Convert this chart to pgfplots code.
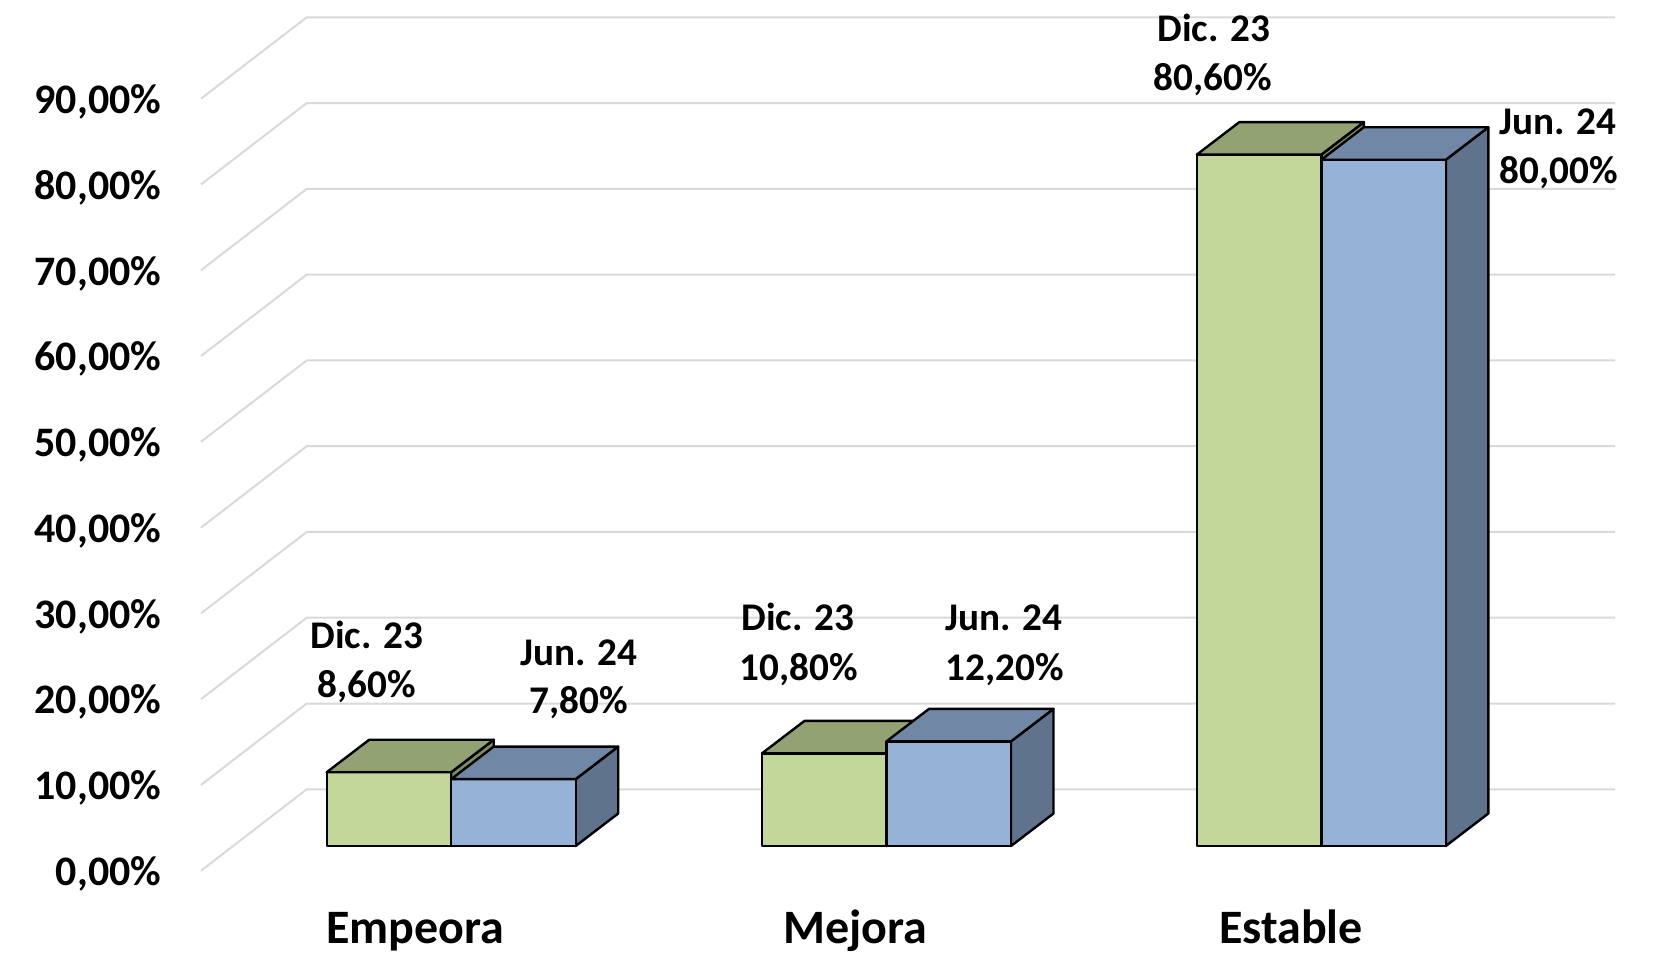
\documentclass[border=0pt]{standalone}
\usepackage{pgfplots}
\pgfplotsset{compat=1.18}
\usepackage{fontspec}
\setmainfont{Carlito}
\definecolor{gridgray}{HTML}{D9D9D9}
\definecolor{dicfront}{HTML}{C4D79B}
\definecolor{dictop}{HTML}{93A273}
\definecolor{dicside}{HTML}{7E8C62}
\definecolor{junfront}{HTML}{95B3D7}
\definecolor{juntop}{HTML}{7087A6}
\definecolor{junside}{HTML}{60738C}
\tikzset{
  tick lab/.style={font=\bfseries\fontsize{10.5}{12}\selectfont, anchor=base east, inner sep=0pt},
  data lab/.style={font=\bfseries\fontsize{9.8}{12}\selectfont, anchor=base, inner sep=0pt},
  cat lab/.style={font=\bfseries\fontsize{12}{14}\selectfont, anchor=base, inner sep=0pt},
}
\pgfplotsset{
  grid line/.style={draw=gridgray, line width=0.5pt, forget plot},
  face/.style={draw=black, line width=0.6pt, line join=round, forget plot},
}
\begin{document}
\begin{tikzpicture}
\begin{axis}[
  scale only axis, width=417.25pt, height=238.75pt,
  xmin=0, xmax=1669, ymin=-12.707, ymax=98.625,
  axis line style={draw=none}, xtick=\empty, ytick=\empty,
  clip=false,
]
% gridlines: side wall (diagonal) and back wall (horizontal)
\addplot[grid line] coordinates {(201,-2.88) (306.7,6.61) (1615,6.61)};
\addplot[grid line] coordinates {(201,7.12) (306.7,16.61) (1615,16.61)};
\addplot[grid line] coordinates {(201,17.12) (306.7,26.61) (1615,26.61)};
\addplot[grid line] coordinates {(201,27.12) (306.7,36.61) (1615,36.61)};
\addplot[grid line] coordinates {(201,37.12) (306.7,46.61) (1615,46.61)};
\addplot[grid line] coordinates {(201,47.12) (306.7,56.61) (1615,56.61)};
\addplot[grid line] coordinates {(201,57.12) (306.7,66.61) (1615,66.61)};
\addplot[grid line] coordinates {(201,67.12) (306.7,76.61) (1615,76.61)};
\addplot[grid line] coordinates {(201,77.12) (306.7,86.61) (1615,86.61)};
\addplot[grid line] coordinates {(201,87.12) (306.7,96.61) (1615,96.61)};

% ---- Empeora: Dic. 23 = 8.6, Jun. 24 = 7.8
\addplot[face, fill=dicside]  coordinates {(451.2,0) (493.7,3.789) (493.7,12.389) (451.2,8.6)} -- cycle;
\addplot[face, fill=dicfront] coordinates {(326.7,0) (451.2,0) (451.2,8.6) (326.7,8.6)} -- cycle;
\addplot[face, fill=dictop]   coordinates {(326.7,8.6) (451.2,8.6) (493.7,12.389) (369.2,12.389)} -- cycle;
\addplot[face, fill=junside]  coordinates {(575.7,0) (618.2,3.789) (618.2,11.589) (575.7,7.8)} -- cycle;
\addplot[face, fill=junfront] coordinates {(451.2,0) (575.7,0) (575.7,7.8) (451.2,7.8)} -- cycle;
\addplot[face, fill=juntop]   coordinates {(451.2,7.8) (575.7,7.8) (618.2,11.589) (493.7,11.589)} -- cycle;

% ---- Mejora: Dic. 23 = 10.8, Jun. 24 = 12.2
\addplot[face, fill=dicside]  coordinates {(886.5,0) (929.0,3.789) (929.0,14.589) (886.5,10.8)} -- cycle;
\addplot[face, fill=dicfront] coordinates {(762.0,0) (886.5,0) (886.5,10.8) (762.0,10.8)} -- cycle;
\addplot[face, fill=dictop]   coordinates {(762.0,10.8) (886.5,10.8) (929.0,14.589) (804.5,14.589)} -- cycle;
\addplot[face, fill=junside]  coordinates {(1011.0,0) (1053.5,3.789) (1053.5,15.989) (1011.0,12.2)} -- cycle;
\addplot[face, fill=junfront] coordinates {(886.5,0) (1011.0,0) (1011.0,12.2) (886.5,12.2)} -- cycle;
\addplot[face, fill=juntop]   coordinates {(886.5,12.2) (1011.0,12.2) (1053.5,15.989) (929.0,15.989)} -- cycle;

% ---- Estable: Dic. 23 = 80.6, Jun. 24 = 80.0
\addplot[face, fill=dicside]  coordinates {(1321.3,0) (1363.8,3.789) (1363.8,84.389) (1321.3,80.6)} -- cycle;
\addplot[face, fill=dicfront] coordinates {(1196.8,0) (1321.3,0) (1321.3,80.6) (1196.8,80.6)} -- cycle;
\addplot[face, fill=dictop]   coordinates {(1196.8,80.6) (1321.3,80.6) (1363.8,84.389) (1239.3,84.389)} -- cycle;
\addplot[face, fill=junside]  coordinates {(1445.8,0) (1488.3,3.789) (1488.3,83.789) (1445.8,80.0)} -- cycle;
\addplot[face, fill=junfront] coordinates {(1321.3,0) (1445.8,0) (1445.8,80.0) (1321.3,80.0)} -- cycle;
\addplot[face, fill=juntop]   coordinates {(1321.3,80.0) (1445.8,80.0) (1488.3,83.789) (1363.8,83.789)} -- cycle;

% y tick labels
\node[tick lab] at (axis cs:162,-4.61) {0,00\%};
\node[tick lab] at (axis cs:162,5.39) {10,00\%};
\node[tick lab] at (axis cs:162,15.39) {20,00\%};
\node[tick lab] at (axis cs:162,25.39) {30,00\%};
\node[tick lab] at (axis cs:162,35.39) {40,00\%};
\node[tick lab] at (axis cs:162,45.39) {50,00\%};
\node[tick lab] at (axis cs:162,55.39) {60,00\%};
\node[tick lab] at (axis cs:162,65.39) {70,00\%};
\node[tick lab] at (axis cs:162,75.39) {80,00\%};
\node[tick lab] at (axis cs:162,85.39) {90,00\%};

% data labels
\node[data lab] at (axis cs:366.7,23.05) {Dic. 23};
\node[data lab] at (axis cs:366.7,17.33) {8,60\%};
\node[data lab] at (axis cs:579,21.10) {Jun. 24};
\node[data lab] at (axis cs:579,15.39) {7,80\%};
\node[data lab] at (axis cs:798,25.18) {Dic. 23};
\node[data lab] at (axis cs:799,19.35) {10,80\%};
\node[data lab] at (axis cs:1004,25.18) {Jun. 24};
\node[data lab] at (axis cs:1005,19.35) {12,20\%};
\node[data lab] at (axis cs:1214,93.76) {Dic. 23};
\node[data lab] at (axis cs:1213,88.13) {80,60\%};
\node[data lab] at (axis cs:1558,82.89) {Jun. 24};
\node[data lab] at (axis cs:1559,77.26) {80,00\%};

% category labels
\node[cat lab] at (axis cs:415,-11.42) {Empeora};
\node[cat lab] at (axis cs:855,-11.42) {Mejora};
\node[cat lab] at (axis cs:1291,-11.42) {Estable};
\end{axis}
\end{tikzpicture}
\end{document}
